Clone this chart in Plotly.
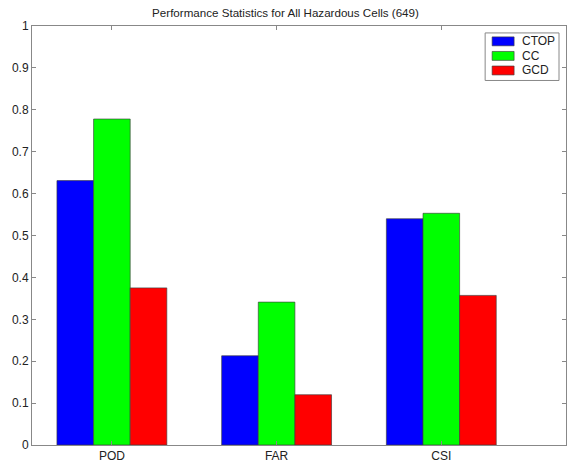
import plotly.graph_objects as go

categories = ["POD", "FAR", "CSI"]
series_names = ["CTOP", "CC", "GCD"]
ctop = [0.631, 0.213, 0.540]
cc = [0.778, 0.341, 0.553]
gcd = [0.375, 0.120, 0.357]
colors = ["#0000ff", "#00ff00", "#ff0000"]
y_ticks = [0, 0.1, 0.2, 0.3, 0.4, 0.5, 0.6, 0.7, 0.8, 0.9, 1]
y_tick_labels = ["0", "0.1", "0.2", "0.3", "0.4", "0.5", "0.6", "0.7", "0.8", "0.9", "1"]

x_pos = list(range(1, len(categories) + 1))

W, H = 571, 467
ML, MR, MT, MB = 32, 4, 26, 18
PW, PH = W - ML - MR, H - MT - MB

def px_x(px):
    return (px - ML) / PW

def px_y(py):
    return 1 - (py - MT) / PH

fig = go.Figure()
edge = "rgba(60,60,60,0.8)"
for name, vals, col in zip(series_names, [ctop, cc, gcd], colors):
    fig.add_trace(go.Bar(
        x=x_pos, y=vals, name=name,
        marker=dict(color=col, line=dict(color=edge, width=0.8)),
    ))

font_family = "Liberation Sans, Arial, sans-serif"
axis_font = dict(family=font_family, size=12, color="#222")

# Compact boxed legend in the upper right corner of the axes
shapes = [dict(type="rect", xref="paper", yref="paper",
               x0=px_x(486), x1=px_x(560), y0=px_y(81), y1=px_y(33),
               line=dict(color="#888", width=1), fillcolor="white", layer="above")]
annotations = []
row_step = 14.7
for i, (name, col) in enumerate(zip(series_names, colors)):
    cy = 41.5 + i * row_step
    shapes.append(dict(type="rect", xref="paper", yref="paper",
                       x0=px_x(493), x1=px_x(515), y0=px_y(cy + 4.5), y1=px_y(cy - 4.5),
                       line=dict(color=edge, width=0.8), fillcolor=col, layer="above"))
    annotations.append(dict(xref="paper", yref="paper", x=px_x(521), y=px_y(cy),
                            xanchor="left", yanchor="middle", showarrow=False,
                            text=name, font=dict(family=font_family, size=12, color="#222")))

fig.update_layout(
    width=W, height=H,
    margin=dict(l=ML, r=MR, t=MT, b=MB),
    paper_bgcolor="white", plot_bgcolor="white",
    barmode="group", bargap=0.333, bargroupgap=0,
    title=dict(text="Performance Statistics for All Hazardous Cells (649)",
               x=0.5, xanchor="center", y=1 - 13 / H, yanchor="middle",
               font=dict(family=font_family, size=11.6, color="#222")),
    showlegend=False,
    shapes=shapes,
    annotations=annotations,
    font=axis_font,
)

fig.update_xaxes(
    range=[0.515, 3.757], tickmode="array", tickvals=x_pos, ticktext=categories,
    showline=True, linecolor="#888", linewidth=1, mirror="ticks",
    ticks="inside", ticklen=4, tickcolor="#888", showgrid=False, zeroline=False,
    tickfont=axis_font,
)
fig.update_yaxes(
    range=[0, 1], tickmode="array", tickvals=y_ticks, ticktext=y_tick_labels,
    showline=True, linecolor="#888", linewidth=1, mirror="ticks",
    ticks="inside", ticklen=4, tickcolor="#888", showgrid=False, zeroline=False,
    tickfont=axis_font,
)

fig.write_html("out.html")
